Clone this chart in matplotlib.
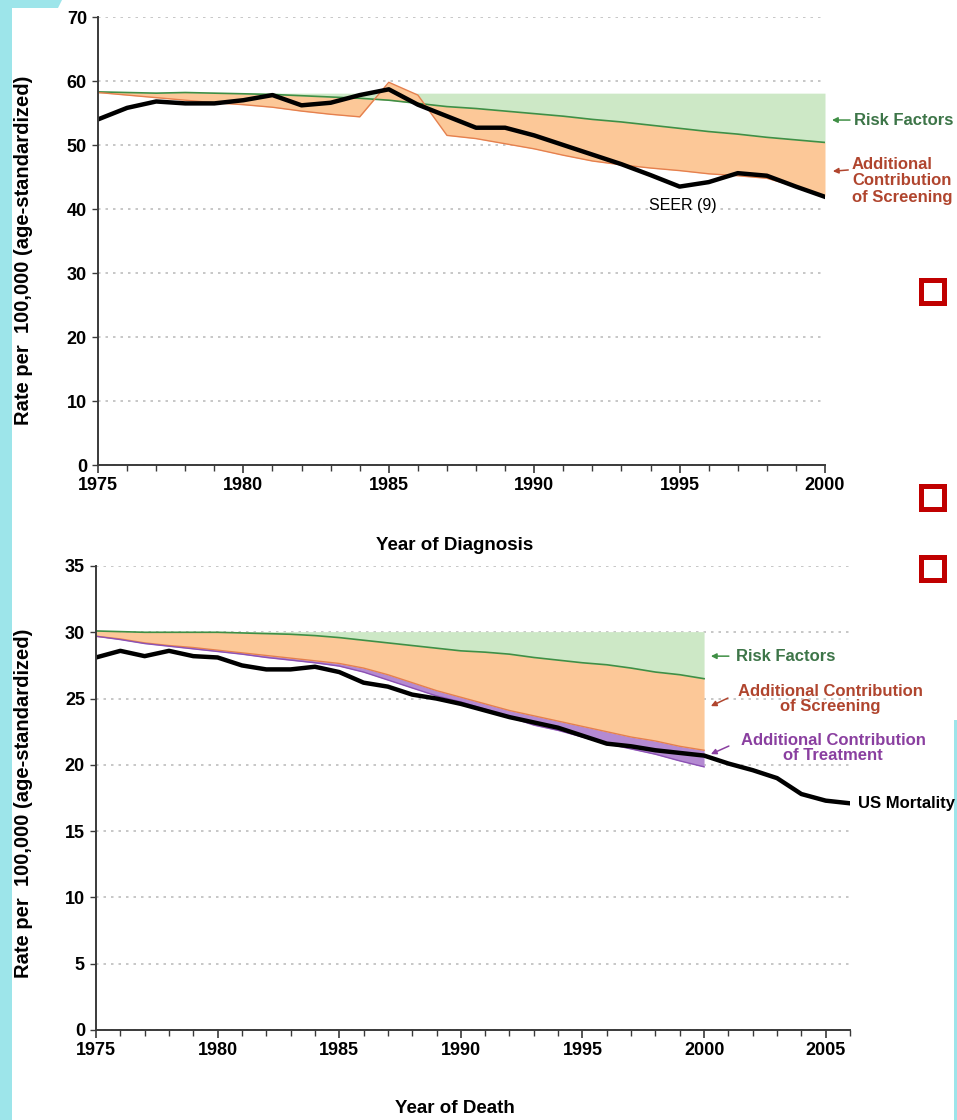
import numpy as np
import matplotlib.pyplot as plt
from matplotlib.patches import Rectangle, Polygon
from matplotlib.ticker import MultipleLocator

plt.rcParams['font.family'] = ['Liberation Sans', 'DejaVu Sans']

# ---- incidence panel (year of diagnosis), rates per 100,000 ----
diag_years = list(range(1975, 2001))
seer9 = [54.0, 55.8, 56.8, 56.5, 56.5, 57.0, 57.8, 56.2, 56.6, 57.8,
         58.7, 56.3, 54.5, 52.7, 52.7, 51.5, 50.0, 48.5, 47.0, 45.3,
         43.5, 44.2, 45.6, 45.2, 43.5, 41.9]
inc_baseline = 58.1
inc_risk = [58.3, 58.2, 58.1, 58.2, 58.1, 58.0, 57.9, 57.7, 57.5, 57.3,
            57.0, 56.5, 56.0, 55.7, 55.3, 54.9, 54.5, 54.0, 53.6, 53.1,
            52.6, 52.1, 51.7, 51.2, 50.8, 50.4]
inc_screen = [58.2, 57.8, 57.4, 57.0, 56.6, 56.3, 55.9, 55.3, 54.8, 54.4,
              59.8, 57.8, 51.5, 51.0, 50.2, 49.4, 48.4, 47.5, 46.9, 46.4,
              46.0, 45.5, 45.2, 44.8, 43.5, 42.0]

# ---- mortality panel (year of death) ----
death_years = list(range(1975, 2007))
us_mort = [28.1, 28.6, 28.2, 28.6, 28.2, 28.1, 27.5, 27.2, 27.2, 27.4,
           27.0, 26.2, 25.9, 25.3, 25.0, 24.6, 24.1, 23.6, 23.2, 22.8,
           22.2, 21.6, 21.4, 21.1, 20.9, 20.7, 20.1, 19.6, 19.0, 17.8,
           17.3, 17.1]
model_years = list(range(1975, 2001))
mort_baseline = 30.05
mort_risk = [30.1, 30.05, 30.0, 30.0, 30.0, 30.0, 29.95, 29.9, 29.85, 29.75,
             29.6, 29.4, 29.2, 29.0, 28.8, 28.6, 28.5, 28.35, 28.1, 27.9,
             27.7, 27.55, 27.3, 27.0, 26.8, 26.5]
mort_screen = [29.7, 29.5, 29.2, 29.0, 28.85, 28.65, 28.45, 28.25, 28.05, 27.85,
               27.65, 27.3, 26.8, 26.2, 25.6, 25.1, 24.6, 24.1, 23.7, 23.3,
               22.9, 22.5, 22.1, 21.8, 21.4, 21.1]
mort_treat = [29.7, 29.45, 29.15, 28.95, 28.75, 28.55, 28.35, 28.1, 27.9, 27.7,
              27.45, 27.0, 26.4, 25.8, 25.2, 24.75, 24.2, 23.6, 23.0, 22.6,
              22.1, 21.6, 21.2, 20.8, 20.3, 19.85]

green_fill = '#cde8c6'
green_line = '#3f8f45'
orange_fill = '#fcc898'
orange_line = '#e5804e'
purple_fill = '#b48ad2'
purple_line = '#8c52b4'
risk_txt = '#3d7548'
screen_txt = '#b0452e'
treat_txt = '#8a3fa0'
cyan = '#9de5ea'

ylab = 'Rate per  100,000 (age-standardized)'


def style_axes(ax, ystep):
    for s in ['top', 'right']:
        ax.spines[s].set_visible(False)
    for s in ['left', 'bottom']:
        ax.spines[s].set_color('#3a3a3a')
        ax.spines[s].set_linewidth(1.4)
    ax.xaxis.set_major_locator(MultipleLocator(5))
    ax.xaxis.set_minor_locator(MultipleLocator(1))
    ax.yaxis.set_major_locator(MultipleLocator(ystep))
    ax.tick_params(axis='x', which='major', direction='out', length=5.5, width=1.2,
                   color='#3a3a3a', pad=3)
    ax.tick_params(axis='x', which='minor', direction='out', length=4, width=1.0,
                   color='#3a3a3a')
    ax.tick_params(axis='y', which='major', direction='out', length=4, width=1.0,
                   color='#3a3a3a', pad=4)
    for lab in ax.get_xticklabels() + ax.get_yticklabels():
        lab.set_fontsize(13)
        lab.set_fontweight('bold')
    ax.yaxis.grid(True, linestyle=(0, (1.5, 3)), color='#bdbdbd', lw=1.2)
    ax.set_axisbelow(True)


fig = plt.figure(figsize=(9.57, 11.2), dpi=100)

# ---------------- top panel ----------------
ax1 = fig.add_axes([98 / 957, 1 - 465 / 1120, 727 / 957, 448 / 1120])
ax1.set_xlim(1975, 2000)
ax1.set_ylim(0, 70)
style_axes(ax1, 10)

ax1.fill_between(diag_years, inc_baseline, inc_risk, color=green_fill, lw=0)
ax1.fill_between(diag_years, inc_risk, inc_screen, color=orange_fill, lw=0)
ax1.plot(diag_years, inc_risk, color=green_line, lw=1.2)
ax1.plot(diag_years, inc_screen, color=orange_line, lw=1.0)
ax1.plot(diag_years, seer9, color='black', lw=3.2, solid_joinstyle='round')

ax1.text(1995.1, 40.5, 'SEER (9)', fontsize=11.5, ha='center', va='center')

arr = dict(arrowstyle='-|>', lw=1.1, mutation_scale=8, shrinkA=0, shrinkB=0)
ax1.annotate('', xy=(2000.24, 53.9), xytext=(2000.86, 53.9),
             arrowprops=dict(arr, color=green_line), annotation_clip=False)
ax1.text(2001.0, 53.9, 'Risk Factors', color=risk_txt, fontsize=12,
         fontweight='bold', ha='left', va='center')
ax1.annotate('', xy=(2000.27, 45.9), xytext=(2000.8, 46.1),
             arrowprops=dict(arr, color=screen_txt), annotation_clip=False)
ax1.text(2000.93, 44.4, 'Additional\nContribution\nof Screening', color=screen_txt,
         fontsize=12, fontweight='bold', ha='left', va='center', linespacing=1.12)

ax1.set_ylabel(ylab, fontsize=14.5, fontweight='bold')
ax1.yaxis.set_label_coords(-0.089, 0.48)
ax1.set_xlabel('Year of Diagnosis', fontsize=13.5, fontweight='bold')
ax1.xaxis.set_label_coords(0.49, -0.16)

# ---------------- bottom panel ----------------
ax2 = fig.add_axes([96 / 957, 1 - 1030 / 1120, 754 / 957, 464 / 1120])
ax2.set_xlim(1975, 2006)
ax2.set_ylim(0, 35)
style_axes(ax2, 5)

ax2.fill_between(model_years, mort_baseline, mort_risk, color=green_fill, lw=0)
ax2.fill_between(model_years, mort_risk, mort_screen, color=orange_fill, lw=0)
ax2.fill_between(model_years, mort_screen, mort_treat, color=purple_fill, lw=0)
ax2.plot(model_years, mort_risk, color=green_line, lw=1.2)
ax2.plot(model_years, mort_screen, color=orange_line, lw=1.0)
ax2.plot(model_years, mort_treat, color=purple_line, lw=1.0)
ax2.plot(death_years, us_mort, color='black', lw=3.2, solid_joinstyle='round')

ax2.annotate('', xy=(2000.28, 28.2), xytext=(2001.02, 28.2),
             arrowprops=dict(arr, color=green_line), annotation_clip=False)
ax2.text(2001.3, 28.2, 'Risk Factors', color=risk_txt, fontsize=12,
         fontweight='bold', ha='left', va='center')
ax2.annotate('', xy=(2000.28, 24.43), xytext=(2000.98, 25.04),
             arrowprops=dict(arr, color=screen_txt), annotation_clip=False)
ax2.text(2005.2, 24.96, 'Additional Contribution\nof Screening', color=screen_txt,
         fontsize=12, fontweight='bold', ha='center', va='center', linespacing=1.05)
ax2.annotate('', xy=(2000.28, 20.81), xytext=(2001.02, 21.42),
             arrowprops=dict(arr, color=treat_txt), annotation_clip=False)
ax2.text(2005.3, 21.27, 'Additional Contribution\nof Treatment', color=treat_txt,
         fontsize=12, fontweight='bold', ha='center', va='center', linespacing=1.05)
ax2.text(2006.32, 17.12, 'US Mortality', color='black', fontsize=12,
         fontweight='bold', ha='left', va='center')

ax2.set_ylabel(ylab, fontsize=14.5, fontweight='bold')
ax2.yaxis.set_label_coords(-0.0836, 0.489)
ax2.set_xlabel('Year of Death', fontsize=13.5, fontweight='bold')
ax2.xaxis.set_label_coords(0.476, -0.151)

# ---------------- page decorations ----------------
W, H = 957.0, 1120.0
fig.patches.append(Rectangle((0, 0), 12 / W, 1, transform=fig.transFigure,
                             color=cyan, lw=0, zorder=-1))
fig.patches.append(Polygon([(0, 1), (62 / W, 1), (58 / W, 1 - 8 / H), (0, 1 - 8 / H)],
                           closed=True, transform=fig.transFigure, color=cyan, lw=0,
                           zorder=-1))
fig.patches.append(Rectangle((954 / W, 0), 3 / W, 1 - 720 / H, transform=fig.transFigure,
                             color=cyan, lw=0, zorder=-1))
for top in [280, 486, 557]:
    fig.patches.append(Rectangle((920.5 / W, 1 - (top + 23) / H), 23 / W, 23 / H,
                                 transform=fig.transFigure, fill=False,
                                 edgecolor='#c00000', lw=3.6, zorder=5))

fig.savefig('out.png', dpi=100)
